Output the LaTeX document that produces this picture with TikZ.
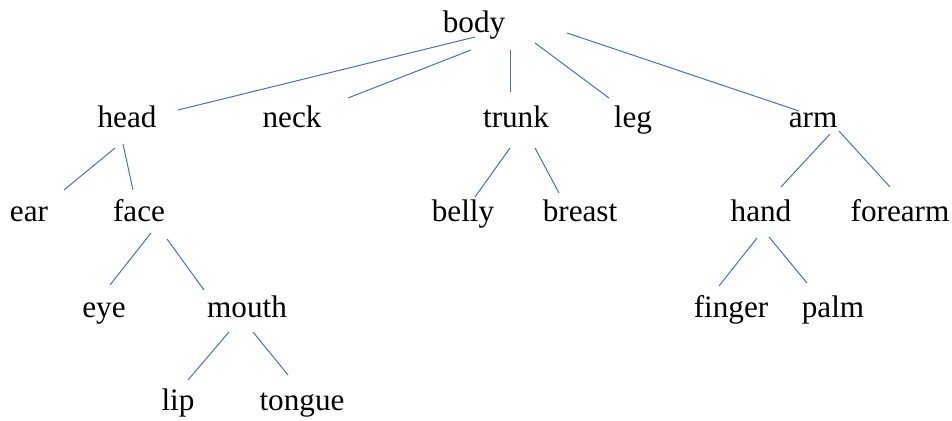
\documentclass[tikz,border=0pt]{standalone}
\usepackage{fontspec}
\setmainfont{Liberation Serif}
\usepackage{tikz}
\definecolor{linkblue}{HTML}{4472C4}

\begin{document}
\begin{tikzpicture}[
  x=0.5pt,y=-0.5pt,
  word/.style={font=\fontsize{15.6}{18}\selectfont,inner sep=0pt,anchor=base},
  link/.style={draw=linkblue,line width=0.5pt}
]
\useasboundingbox (0,0) rectangle (952,421);
% level 0 and 1
\node[word] (body) at (474,33) {body};
\node[word] (head) at (127,128) {head};
\node[word] (neck) at (292,128) {neck};
\node[word] (trunk) at (516,128) {trunk};
\node[word] (leg) at (633,128) {leg};
\node[word] (arm) at (813,128) {arm};
% level 2
\node[word] (ear) at (29,222) {ear};
\node[word] (face) at (139,222) {face};
\node[word] (belly) at (463,222) {belly};
\node[word] (breast) at (580,222) {breast};
\node[word] (hand) at (761,222) {hand};
\node[word] (forearm) at (900,222) {forearm};
% level 3 and 4
\node[word] (eye) at (104,318) {eye};
\node[word] (mouth) at (247,318) {mouth};
\node[word] (finger) at (731,318) {finger};
\node[word] (palm) at (833,318) {palm};
\node[word] (lip) at (178,411) {lip};
\node[word] (tongue) at (302,411) {tongue};

% branches
\draw[link] ([shift={(1,4)}]body.base) -- ([shift={(51,-18)}]head.base);
\draw[link] ([shift={(-3,17)}]body.base) -- ([shift={(56,-30)}]neck.base);
\draw[link] ([shift={(36,17)}]body.base) -- ([shift={(-6,-36)}]trunk.base);
\draw[link] ([shift={(61,10)}]body.base) -- ([shift={(-24,-30)}]leg.base);
\draw[link] ([shift={(93,0)}]body.base) -- ([shift={(-14,-17)}]arm.base);
\draw[link] ([shift={(-12,20)}]head.base) -- ([shift={(35,-32)}]ear.base);
\draw[link] ([shift={(-4,16)}]head.base) -- ([shift={(-6,-32)}]face.base);
\draw[link] ([shift={(-6,20)}]trunk.base) -- ([shift={(12,-25)}]belly.base);
\draw[link] ([shift={(19,20)}]trunk.base) -- ([shift={(-21,-29)}]breast.base);
\draw[link] ([shift={(17,6)}]arm.base) -- ([shift={(20,-35)}]hand.base);
\draw[link] ([shift={(26,3)}]arm.base) -- ([shift={(-10,-35)}]forearm.base);
\draw[link] ([shift={(12,11)}]face.base) -- ([shift={(6,-33)}]eye.base);
\draw[link] ([shift={(28,17)}]face.base) -- ([shift={(-43,-28)}]mouth.base);
\draw[link] ([shift={(-18,14)}]mouth.base) -- ([shift={(10,-31)}]lip.base);
\draw[link] ([shift={(6,14)}]mouth.base) -- ([shift={(-14,-36)}]tongue.base);
\draw[link] ([shift={(-4,16)}]hand.base) -- ([shift={(-12,-32)}]finger.base);
\draw[link] ([shift={(8,15)}]hand.base) -- ([shift={(-26,-35)}]palm.base);
\end{tikzpicture}
\end{document}
